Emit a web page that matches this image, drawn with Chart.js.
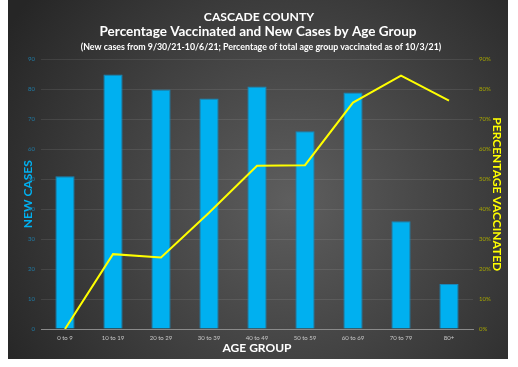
<!DOCTYPE html>
<html><head><meta charset="utf-8">
<script src="https://cdn.jsdelivr.net/npm/chart.js@4.4.1/dist/chart.umd.min.js"></script>
<style>html,body{margin:0;padding:0;background:#fff;}#wrap{width:518px;height:367px;position:relative;}</style>
</head><body><div id="wrap"><canvas id="c" width="518" height="367"></canvas></div>
<script>
const categories = ["0 to 9","10 to 19","20 to 29","30 to 39","40 to 49","50 to 59","60 to 69","70 to 79","80+"];
const newCases = [51,85,80,77,81,66,79,36,15];
const pctVaccinated = [0,25.0,23.9,38.8,54.5,54.7,75.6,84.6,76.3];
const casesTicks = [0,10,20,30,40,50,60,70,80,90];
const pctTicks = [0,10,20,30,40,50,60,70,80,90];
const titleLines = ["CASCADE COUNTY","Percentage Vaccinated and New Cases by Age Group","(New cases from 9/30/21-10/6/21; Percentage of total age group vaccinated as of 10/3/21)"];

const bgPlugin = {
  id:'bg',
  beforeDraw(chart){
    const ctx = chart.ctx;
    ctx.save();
    ctx.fillStyle = '#ffffff';
    ctx.fillRect(0,0,518,367);
    const g = ctx.createRadialGradient(290,200,0,290,200,330);
    g.addColorStop(0,'#5e5e5e');
    g.addColorStop(1,'#262626');
    ctx.fillStyle = g;
    ctx.fillRect(8,0,500,359);
    ctx.restore();
  },
  afterDraw(chart){
    const ctx = chart.ctx;
    ctx.save();
    ctx.fillStyle = '#ffffff';
    ctx.textAlign = 'center';
    ctx.textBaseline = 'middle';
    ctx.font = 'bold 12.2px Lato';
    ctx.fillText(titleLines[0], 259, 17);
    ctx.font = 'bold 13.5px Lato';
    ctx.fillText(titleLines[1], 258, 32);
    ctx.font = 'bold 8.8px Lato';
    ctx.fillText(titleLines[2], 261, 47);
    ctx.restore();
  }
};

new Chart(document.getElementById('c'), {
  data: {
    labels: categories,
    datasets: [
      { type:'line', label:'Percentage Vaccinated', data: pctVaccinated, yAxisID:'y1',
        borderColor:'#ffff00', borderWidth:2, pointRadius:0, tension:0, order:0 },
      { type:'bar', label:'New Cases', data: newCases, yAxisID:'y',
        backgroundColor:'#00b0f0', borderColor:'#1a86b8', borderWidth:1,
        barPercentage:0.4, categoryPercentage:1, order:1 }
    ]
  },
  options: {
    responsive:false, animation:false, devicePixelRatio:1,
    layout:{ padding:{ left:0, right:0, top:59.5, bottom:0 } },
    plugins:{ legend:{ display:false }, tooltip:{ enabled:false }, title:{display:false}, subtitle:{display:false} },
    scales:{
      x:{ grid:{ display:false, drawTicks:false },
        border:{ display:true, color:'#8a8a8a', width:1 },
        ticks:{ color:'#c8c8c8', font:{ family:'Lato', size:6 }, padding:5, maxRotation:0 },
        title:{ display:true, text:'AGE GROUP', color:'#ffffff', font:{ family:'Lato', size:12, weight:'bold', lineHeight:1.2 }, padding:{top:2,bottom:12} },
        afterFit(s){ s.height = 38; } },
      y:{ position:'left', min:0, max:90, afterBuildTicks(s){ s.ticks = casesTicks.map(v=>({value:v})); },
        grid:{ color:'rgba(255,255,255,0.09)', drawTicks:false },
        border:{ display:false },
        ticks:{ color:'#1f7ba6', font:{ family:'Lato', size:6 }, padding:6 },
        title:{ display:true, text:'NEW CASES', color:'#00b0f0', font:{ family:'Lato', size:12, weight:'bold', lineHeight:1.2 }, padding:{top:21,bottom:0} },
        afterFit(s){ s.width = 41; } },
      y1:{ position:'right', min:0, max:90, afterBuildTicks(s){ s.ticks = pctTicks.map(v=>({value:v})); },
        grid:{ display:false, drawTicks:false },
        border:{ display:false },
        ticks:{ color:'#a6a600', font:{ family:'Lato', size:6 }, padding:6, callback:v=>v+'%' },
        title:{ display:true, text:'PERCENTAGE VACCINATED', color:'#ffff00', font:{ family:'Lato', size:12, weight:'bold', lineHeight:1.2 }, padding:{top:14,bottom:0} },
        afterFit(s){ s.width = 45; } }
    }
  },
  plugins:[bgPlugin]
});
</script></body></html>
